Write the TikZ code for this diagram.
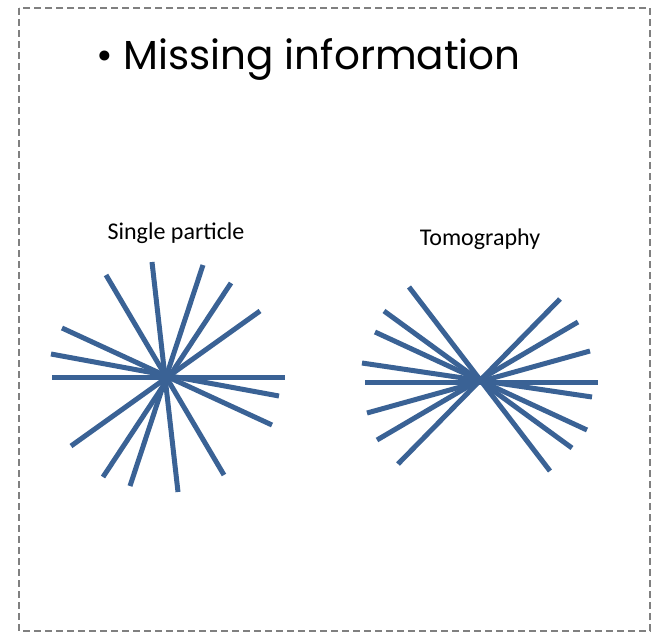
\documentclass[tikz,border=0pt]{standalone}
\usepackage{fontspec}
\usepackage{xcolor}
\setmainfont{Poppins}
\newfontfamily\labelfont{Carlito}
\definecolor{RayBlue}{HTML}{3A6295}

\begin{document}
\begin{tikzpicture}[x=1pt, y=-1pt]
        \tikzstyle Frame Line=[color=black!50, line width=1.4pt, dash pattern=on 7pt off 4pt]
        \tikzstyle Ray Line=[color=RayBlue, line width=5pt]
        \tikzstyle Title Text=[font=\fontsize{40.5}{44}\selectfont, anchor=base west, inner sep=0pt]
        \tikzstyle Label Text=[font=\labelfont\fontsize{24}{28}\selectfont, anchor=base, inner sep=0pt]

        \useasboundingbox (0, 0) rectangle (652, 634);
        \draw[style=Frame Line] (19, 8) rectangle (650, 631);

        \node[Title Text] (title) at (96, 69) {• Missing information};
        \node[Label Text] (single) at (176, 239) {Single particle};
        \node[Label Text] (tomo) at (480, 245) {Tomography};

        % single particle: projections all round
        \draw[Ray Line] (52, 377) -- (285, 377);
        \draw[Ray Line] (51, 354) -- (279, 396);
        \draw[Ray Line] (62, 328) -- (272, 425);
        \draw[Ray Line] (106, 275) -- (224, 475);
        \draw[Ray Line] (152, 262) -- (178, 492);
        \draw[Ray Line] (203, 265) -- (130, 486);
        \draw[Ray Line] (231, 283) -- (103, 477);
        \draw[Ray Line] (260, 311) -- (71, 446);

        % tomography: tilt series, wedge left out
        \draw[Ray Line] (409, 287) -- (550, 471);
        \draw[Ray Line] (384, 311) -- (572, 448);
        \draw[Ray Line] (375, 332) -- (587, 430);
        \draw[Ray Line] (362, 363) -- (592, 397);
        \draw[Ray Line] (365, 382) -- (598, 382);
        \draw[Ray Line] (367, 413) -- (590, 351);
        \draw[Ray Line] (377, 440) -- (578, 322);
        \draw[Ray Line] (398, 464) -- (560, 299);
    \end{tikzpicture}
\end{document}
